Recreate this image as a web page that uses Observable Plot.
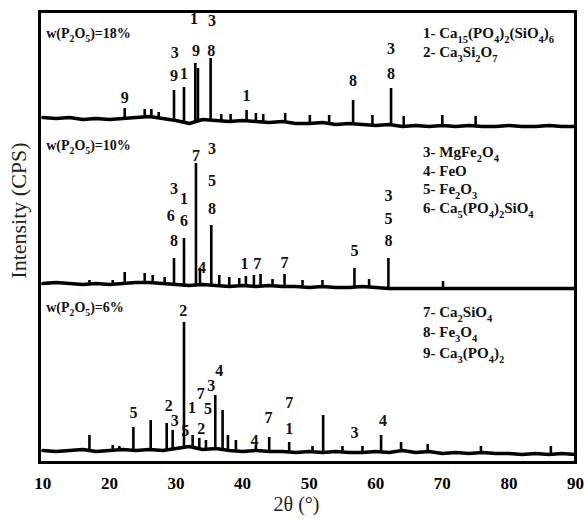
<!DOCTYPE html>
<html>
<head>
<meta charset="utf-8">
<script src="https://cdn.jsdelivr.net/npm/d3@7"></script>
<script src="https://cdn.jsdelivr.net/npm/@observablehq/plot@0.6"></script>
<style>
  html, body { margin: 0; padding: 0; background: #fff; }
  #chart { width: 588px; height: 524px; }
  #chart svg, #chart text { font-family: "Liberation Serif", "Times New Roman", serif; }
</style>
</head>
<body>
<div id="chart"></div>
<script>
// ---- Data (intensity in arbitrary units) ----
const xTicks = [10, 20, 30, 40, 50, 60, 70, 80, 90];

// stacking offsets of the three patterns
const offset18 = 344, offset10 = 179, offset6 = 12;

// baseline samples (2θ) and baseline levels (relative to each pattern's zero)
const baseTheta = [10,12,14,16,18,20,22,24,26,28,30,32,34,36,38,40,42,44,46,48,50,52,54,56,58,60,62,64,66,68,70,72,74,76,78,80,82,84,86,88,90];
const base18 = [1,0,1,-1,0,-1,0,1,2,0,-2,-5,-1,-2,-3,-2,-3,-4,-3,-5,-5,-4,-6,-5,-6,-7,-6,-8,-7,-8,-7,-8,-7,-8,-8,-7,-8,-8,-7,-8,-8];
const base10 = [0,1,0,-1,0,-1,0,1,1,0,-1,-2,-1,-2,-3,-2,-3,-2,-3,-3,-4,-3,-4,-4,-3,-4,-5,-5,-5,-5,-5,-5,-5,-5,-5,-5,-5,-5,-5,-5,-5];
const base6  = [0,-1,0,1,-1,0,1,0,1,0,2,4,1,2,0,-1,0,-1,-1,-2,-1,-2,-1,-2,-2,-1,-2,0,-2,-1,-3,-2,-3,-2,-3,-3,-4,-3,-4,-3,-4];

// peaks: position (2θ), foot level, top level (relative to pattern zero)
const pos18 = [22.3,25.3,26.3,27.4,29.7,31.2,32.9,33.3,35.2,36.8,38.2,40.6,42.0,43.1,46.4,50.1,53.0,56.6,59.5,62.3,64.2,70.0,75.0];
const foot18 = [0,1,2,1,-1,-3,-4,-3,-1,-2,-3,-2,-3,-4,-3,-5,-4,-5,-6,-6,-8,-7,-7];
const top18 = [10,9,9,6,28,31,55,50,60,4,4,8,5,4,5,3,3,18,3,30,2,3,2];

const pos10 = [17.0,20.5,22.3,25.3,26.5,28.3,29.7,31.2,33.0,33.6,35.3,36.5,38.0,39.5,40.5,41.7,42.7,44.5,46.3,49.0,52.0,56.8,59.0,61.9,70.1];
const foot10 = [-1,-1,0,1,1,0,-1,-2,-2,-2,-2,-2,-3,-2,-2,-3,-2,-2,-3,-3,-3,-4,-3,-4,-5];
const top10 = [3,3,11,10,8,6,25,45,120,15,58,8,6,5,7,8,9,4,9,3,3,15,4,25,2];

const pos6 = [17.0,20.5,21.5,23.6,26.2,28.6,29.5,31.2,32.5,33.5,34.5,35.9,37.0,37.8,39.0,42.0,44.0,47.0,50.5,52.1,55.0,58.0,60.8,63.8,67.8,75.8,86.3];
const foot6 = [-1,0,0,1,0,0,1,3,2,1,1,0,0,-1,-1,-1,-1,-1,-2,-2,-1,-2,-2,-1,-2,-3,-3];
const top6 = [15,5,4,23,30,27,20,128,15,12,10,55,40,15,10,5,13,8,4,35,4,4,15,8,6,4,4];

// phase index labels over the peaks (2θ, level, text)
const labTheta = [22.3,29.7,29.8,31.2,33.0,32.7,35.3,35.4,40.6,56.6,62.3,62.3,
                  29.7,29.2,29.7,31.2,31.2,33.0,35.4,35.4,35.4,33.9,40.3,42.2,46.3,56.8,61.9,61.9,61.9,
                  31.1,23.6,28.9,29.8,31.4,32.4,33.7,35.3,36.5,34.8,33.8,41.8,43.9,47.0,47.0,56.8,61.1];
const labLevel = [365,387,410,389,412,444,412,442,367,382,389,414,
                  274,247,222,264,242,307,314,282,254,195,199,199,200,212,267,244,222,
                  152,50,57,42,32,55,69,77,92,54,34,22,45,60,34,30,42];
const labText  = ["9","9","3","1","9","1","8","3","1","8","8","3",
                  "3","6","8","1","6","7","3","5","8","4","1","7","7","5","3","5","8",
                  "2","5","2","3","5","1","7","3","4","5","2","4","7","7","1","3","4"];

// phase legend ({n} = subscript)
const legendText = ["1- Ca{15}(PO{4}){2}(SiO{4}){6}","2- Ca{3}Si{2}O{7}","3- MgFe{2}O{4}","4- FeO","5- Fe{2}O{3}",
                    "6- Ca{5}(PO{4}){2}SiO{4}","7- Ca{2}SiO{4}","8- Fe{3}O{4}","9- Ca{3}(PO{4}){2}"];
const legendLevel = [429,410,310,291,273,254,150,130,109];

// sample labels
const sampleText = ["w(P{2}O{5})=18%","w(P{2}O{5})=10%","w(P{2}O{5})=6%"];
const sampleLevel = [429,317,155];

// ---- Build tables ----
const serif = "Liberation Serif, Times New Roman, serif";
function baseline(base, off) { return baseTheta.map((t, i) => ({t, y: off + base[i]})); }
function peaks(pos, foot, top, off) { return pos.map((t, i) => ({t, y1: off + foot[i], y2: off + top[i]})); }
const lines = [baseline(base18, offset18), baseline(base10, offset10), baseline(base6, offset6)];
const sticks = [...peaks(pos18, foot18, top18, offset18), ...peaks(pos10, foot10, top10, offset10), ...peaks(pos6, foot6, top6, offset6)];
const labels = labTheta.map((t, i) => ({t, y: labLevel[i], s: labText[i]}));
const legend = legendText.map((s, i) => ({s, y: legendLevel[i]}));
const samples = sampleText.map((s, i) => ({s, y: sampleLevel[i]}));

const chart = Plot.plot({
  width: 588, height: 524,
  marginLeft: 39, marginRight: 13, marginTop: 11, marginBottom: 62,
  style: {fontFamily: serif, background: "#fff", color: "#000"},
  x: {domain: [9.5, 90]},
  y: {domain: [0, 451], axis: null},
  marks: [
    ...lines.map(d => Plot.line(d, {x: "t", y: "y", stroke: "#000", strokeWidth: 3.4, strokeLinejoin: "round"})),
    Plot.ruleX(sticks, {x: "t", y1: "y1", y2: "y2", stroke: "#000", strokeWidth: 2.6}),
    Plot.text(labels, {x: "t", y: "y", text: "s", fontSize: 16, fontWeight: "bold", fontFamily: serif, fill: "#111"}),
    Plot.text(legend, {x: () => 67.1, y: "y", text: "s", textAnchor: "start", fontSize: 15, fontWeight: "bold", fontFamily: serif, fill: "#111"}),
    Plot.text(samples, {x: () => 10.5, y: "y", text: "s", textAnchor: "start", fontSize: 14, fontWeight: "bold", fontFamily: serif, fill: "#111"}),
    Plot.frame({stroke: "#000", strokeWidth: 3}),
    Plot.axisX({ticks: xTicks, tickSize: 0, tickPadding: 14, fontSize: 17, fontWeight: "bold", fontFamily: serif, label: null}),
    Plot.text(["Intensity (CPS)"], {x: () => 9.5, y: () => 252, dx: -21, rotate: -90, fontSize: 22, fontFamily: serif, fill: "#222"}),
    Plot.text(["2θ (°)"], {frameAnchor: "bottom", dx: -11, dy: 48, fontSize: 20, fontFamily: serif, fill: "#222"})
  ]
});

// render {n} as subscripts (shift down, then restore on the following run)
d3.select(chart).selectAll("text").each(function() {
  const raw = this.textContent;
  if (!raw.includes("{")) return;
  const fs = +this.parentNode.getAttribute("font-size") || 15;
  const shift = Math.round(fs * 0.3 * 10) / 10;
  const el = d3.select(this);
  el.text(null);
  let lowered = false;
  raw.split(/(\{\d+\})/).filter(p => p.length).forEach(p => {
    if (p.startsWith("{")) {
      el.append("tspan").attr("font-size", fs * 0.7).attr("dy", lowered ? 0 : shift).text(p.slice(1, -1));
      lowered = true;
    } else {
      el.append("tspan").attr("dy", lowered ? -shift : 0).text(p);
      lowered = false;
    }
  });
});

document.getElementById("chart").appendChild(chart);
</script>
</body>
</html>
